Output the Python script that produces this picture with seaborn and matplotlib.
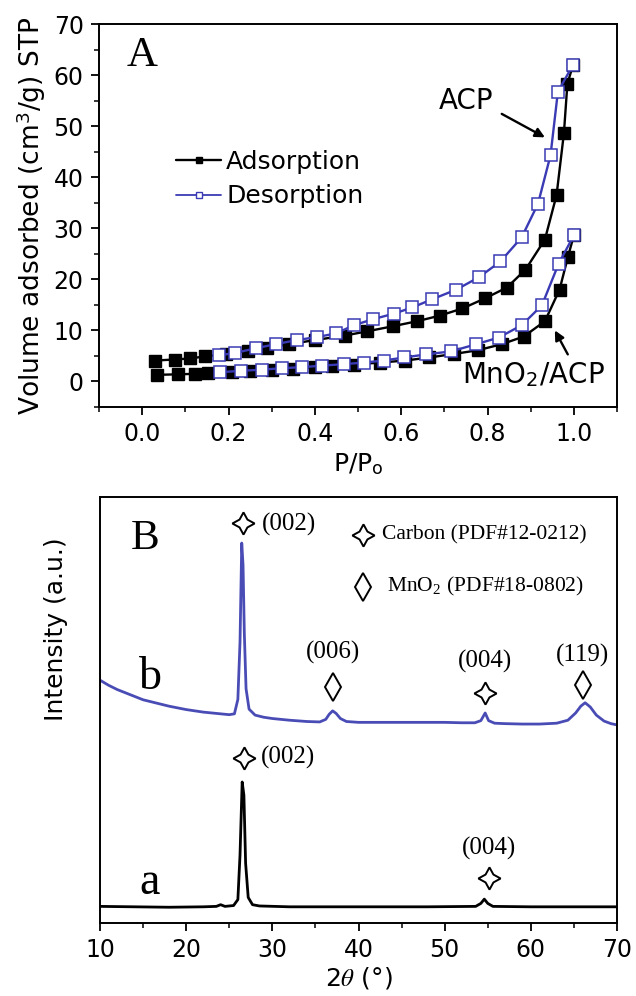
import matplotlib
matplotlib.use("Agg")
import matplotlib.pyplot as plt
import seaborn as sns
import numpy as np
from matplotlib.ticker import MultipleLocator
from matplotlib.lines import Line2D

# ---------------- Panel A data (N2 isotherms) ----------------
acp_ads_p = [0.03, 0.075, 0.11, 0.145, 0.195, 0.245, 0.29, 0.34, 0.40, 0.47, 0.52, 0.58, 0.637,
             0.69, 0.742, 0.795, 0.845, 0.888, 0.933, 0.96, 0.977, 0.985, 0.998]
acp_ads_v = [4.1, 4.3, 4.5, 4.9, 5.4, 6.0, 6.6, 7.3, 8.1, 9.0, 9.8, 10.8, 11.8,
             12.9, 14.3, 16.3, 18.4, 21.9, 27.8, 36.5, 48.6, 58.2, 62.0]
acp_des_p = [0.998, 0.963, 0.946, 0.917, 0.879, 0.83, 0.78, 0.728, 0.672, 0.626, 0.584,
             0.535, 0.49, 0.449, 0.405, 0.358, 0.309, 0.263, 0.216, 0.177]
acp_des_v = [62.0, 56.7, 44.3, 34.8, 28.2, 23.5, 20.4, 18.0, 16.1, 14.5, 13.3,
             12.2, 11.0, 9.4, 8.7, 8.1, 7.3, 6.5, 5.6, 5.1]
mno_ads_p = [0.035, 0.084, 0.123, 0.153, 0.207, 0.25, 0.30, 0.35, 0.40, 0.44, 0.49, 0.55,
             0.61, 0.665, 0.723, 0.777, 0.833, 0.884, 0.933, 0.967, 0.986, 1.0]
mno_ads_v = [1.3, 1.4, 1.5, 1.7, 1.9, 2.1, 2.3, 2.5, 2.8, 3.0, 3.3, 3.7,
             4.1, 4.7, 5.4, 6.1, 7.3, 8.8, 11.8, 18.0, 24.3, 28.6]
mno_des_p = [1.0, 0.965, 0.926, 0.879, 0.826, 0.774, 0.716, 0.658, 0.607, 0.56, 0.514,
             0.468, 0.417, 0.37, 0.323, 0.277, 0.23, 0.18]
mno_des_v = [28.6, 23.1, 14.9, 11.0, 8.6, 7.3, 5.9, 5.3, 4.7, 4.1, 3.7,
             3.4, 3.1, 2.8, 2.6, 2.3, 2.1, 1.8]

# ---------------- Panel B data (XRD) ----------------
tt_b = [10, 11, 12, 13, 14, 15, 16, 17, 18, 19, 20, 21, 22, 23, 24, 25, 25.6, 26.0, 26.25,
        26.45, 26.6, 26.75, 26.95, 27.3, 28, 29, 30, 32, 34, 35.5, 36.2, 36.6, 37.0, 37.4,
        37.9, 38.6, 40, 42, 44, 46, 48, 50, 52, 53.5, 54.2, 54.7, 55.1, 55.8, 57, 59, 61,
        63, 64.3, 65.2, 65.8, 66.3, 66.9, 67.6, 68.5, 69.3, 70]
int_b = [57.0, 55.8, 54.8, 54.0, 53.2, 52.4, 51.9, 51.4, 50.9, 50.5, 50.1, 49.8, 49.5, 49.3,
         49.1, 48.9, 49.1, 52.5, 66.0, 89.2, 84.0, 68.0, 55.0, 50.2, 48.8, 48.3, 48.0, 47.6,
         47.3, 47.2, 47.8, 49.0, 49.8, 49.2, 48.0, 47.3, 47.1, 47.1, 47.1, 47.1, 47.1, 47.1,
         47.0, 47.0, 47.5, 49.3, 47.5, 46.9, 46.8, 46.7, 46.7, 46.9, 47.6, 49.3, 50.9, 51.7,
         50.7, 48.8, 47.4, 46.8, 46.5]
tt_a = [10, 14, 18, 22, 23.5, 24.0, 24.5, 25.5, 26.0, 26.25, 26.5, 26.7, 26.9, 27.2, 27.7,
        28.5, 32, 40, 48, 53.6, 54.2, 54.6, 55.0, 55.6, 60, 65, 70]
int_a = [3.9, 3.8, 3.7, 3.8, 3.9, 4.3, 3.9, 4.1, 5.5, 16.0, 33.1, 30.0, 14.0, 6.0, 4.3,
         4.0, 3.8, 3.8, 3.8, 3.9, 4.6, 5.6, 4.6, 3.9, 3.8, 3.8, 3.8]

sns.set_style("ticks")
plt.rcParams['font.family'] = ['DejaVu Sans']
plt.rcParams['mathtext.fontset'] = 'stix'
for k in ['text.color', 'axes.labelcolor', 'xtick.color', 'ytick.color', 'axes.edgecolor']:
    plt.rcParams[k] = 'black'

BLUE_A = '#3a3ab4'
BLUE_B = '#4a4cb6'
SERIF = ['Liberation Serif', 'DejaVu Serif']

fig = plt.figure(figsize=(6.36, 9.96), dpi=100)
axA = fig.add_axes([99/636, 1-407/996, 518/636, 383/996])
axB = fig.add_axes([100/636, 1-923/996, 517/636, 426/996])

# ---------------- Panel A ----------------
sq = dict(marker='s', markersize=8, linewidth=1.7, sort=False, estimator=None)
sns.lineplot(x=acp_ads_p, y=acp_ads_v, ax=axA, color='black', markerfacecolor='black',
             markeredgecolor='black', markeredgewidth=1, **sq)
sns.lineplot(x=mno_ads_p, y=mno_ads_v, ax=axA, color='black', markerfacecolor='black',
             markeredgecolor='black', markeredgewidth=1, **sq)
sns.lineplot(x=acp_des_p, y=acp_des_v, ax=axA, color=BLUE_A, markerfacecolor='white',
             markeredgecolor=BLUE_A, markeredgewidth=1.1, **sq)
sns.lineplot(x=mno_des_p, y=mno_des_v, ax=axA, color=BLUE_A, markerfacecolor='white',
             markeredgecolor=BLUE_A, markeredgewidth=1.1, **sq)

axA.set_xlim(-0.1, 1.1)
axA.set_ylim(-5, 70)
axA.xaxis.set_minor_locator(MultipleLocator(0.1))
axA.yaxis.set_minor_locator(MultipleLocator(5))
axA.set_xticks([0.0, 0.2, 0.4, 0.6, 0.8, 1.0])
axA.set_xticklabels(['0.0', '0.2', '0.4', '0.6', '0.8', '1.0'])
axA.set_yticks([0, 10, 20, 30, 40, 50, 60, 70])
axA.tick_params(which='major', direction='out', length=6, width=1.3, labelsize=17, pad=5)
axA.tick_params(which='minor', direction='out', length=3.5, width=1.1)
axA.set_xlabel('P/P$_\\mathregular{o}$', fontsize=18, labelpad=4)
axA.set_ylabel('Volume adsorbed (cm$^\\mathregular{3}$/g) STP', fontsize=19, labelpad=4)
for s in axA.spines.values():
    s.set_visible(True)
    s.set_linewidth(1.4)

h1 = Line2D([], [], color='black', marker='s', markersize=5, markerfacecolor='black', lw=1.7)
h2 = Line2D([], [], color=BLUE_A, marker='s', markersize=5, markerfacecolor='white',
            markeredgecolor=BLUE_A, lw=1.3)
axA.legend([h1, h2], ['Adsorption', 'Desorption'], frameon=False, fontsize=18,
           loc='center left', bbox_to_anchor=(0.125, 0.595), handlelength=1.8,
           handletextpad=0.2, labelspacing=0.42, borderpad=0)

axA.text(0.0, 63.7, 'A', fontsize=31, family=SERIF, ha='center', va='center')
axA.text(0.751, 54.9, 'ACP', fontsize=20, ha='center', va='center')
axA.annotate('', xy=(0.933, 47.8), xytext=(0.833, 52.4),
             arrowprops=dict(arrowstyle='-|>', color='black', lw=1.7, mutation_scale=14,
                             shrinkA=0, shrinkB=0))
axA.text(0.907, 1.2, 'MnO$_\\mathregular{2}$/ACP', fontsize=20, ha='center', va='center')
axA.annotate('', xy=(0.956, 10.0), xytext=(0.986, 5.3),
             arrowprops=dict(arrowstyle='-|>', color='black', lw=1.7, mutation_scale=14,
                             shrinkA=0, shrinkB=0))

# ---------------- Panel B ----------------
sns.lineplot(x=tt_b, y=int_b, ax=axB, color=BLUE_B, linewidth=2.0, sort=False, estimator=None)
sns.lineplot(x=tt_a, y=int_a, ax=axB, color='black', linewidth=2.0, sort=False, estimator=None)
axB.set_xlim(10, 70)
axB.set_ylim(0, 100)
axB.xaxis.set_major_locator(MultipleLocator(10))
axB.xaxis.set_minor_locator(MultipleLocator(5))
axB.set_yticks([])
axB.tick_params(which='major', direction='out', length=6, width=1.3, labelsize=17, pad=5)
axB.tick_params(which='minor', direction='out', length=3.5, width=1.1)
axB.set_xlabel('2$\\theta$ (°)', fontsize=18, labelpad=2)
axB.set_ylabel('Intensity (a.u.)', fontsize=18)
axB.yaxis.set_label_coords(-0.062, 0.69)
for s in axB.spines.values():
    s.set_visible(True)
    s.set_linewidth(1.4)

star = dict(marker=(4, 1, 0), markersize=16, markerfacecolor='white', markeredgecolor='black',
            markeredgewidth=1.4, linestyle='none')
dia = dict(marker='d', markersize=14, markerfacecolor='white', markeredgecolor='black',
           markeredgewidth=1.4, linestyle='none')

star_x = [26.6, 40.5, 54.7, 26.7, 55.1]
star_y = [93.9, 91.1, 54.0, 38.7, 10.6]
dia_x = [40.5, 37.0, 66.0]
dia_y = [78.9, 55.4, 55.9]
axB.plot(star_x, star_y, **star)
axB.plot(dia_x, dia_y, **dia)

fs_lab = 18
axB.text(15.2, 90.1, 'B', fontsize=31, family=SERIF, ha='center', va='center')
axB.text(15.8, 57.5, 'b', fontsize=33, family=SERIF, ha='center', va='center')
axB.text(15.8, 9.5, 'a', fontsize=33, family=SERIF, ha='center', va='center')
axB.text(28.8, 93.6, '(002)', fontsize=fs_lab, family=SERIF, ha='left', va='center')
axB.text(28.7, 38.9, '(002)', fontsize=fs_lab, family=SERIF, ha='left', va='center')
axB.text(37.0, 63.4, '(006)', fontsize=fs_lab, family=SERIF, ha='center', va='center')
axB.text(54.7, 61.3, '(004)', fontsize=fs_lab, family=SERIF, ha='center', va='center')
axB.text(66.0, 62.9, '(119)', fontsize=fs_lab, family=SERIF, ha='center', va='center')
axB.text(55.1, 17.6, '(004)', fontsize=fs_lab, family=SERIF, ha='center', va='center')
axB.text(42.7, 91.1, 'Carbon (PDF#12-0212)', fontsize=15.5, family=SERIF, ha='left', va='center')
axB.text(43.3, 78.9, 'MnO$_\\mathregular{2}$ (PDF#18-0802)', fontsize=15.5, family=SERIF,
         ha='left', va='center')

fig.savefig('out.png', dpi=100)
